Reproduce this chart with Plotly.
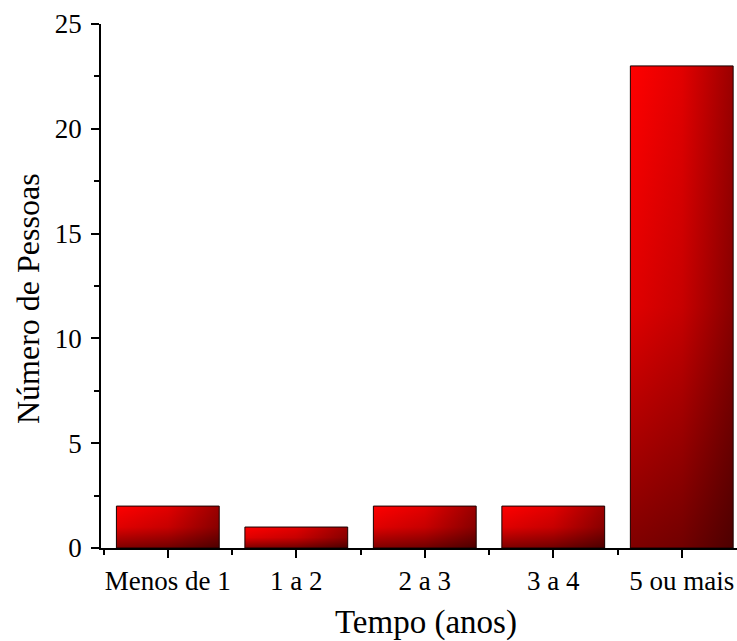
import plotly.graph_objects as go

categories = ["Menos de 1", "1 a 2", "2 a 3", "3 a 4", "5 ou mais"]
values = [2, 1, 2, 2, 23]
y_ticks = [0, 5, 10, 15, 20, 25]

bar_half = 0.4
fig = go.Figure()
for i, v in enumerate(values):
    xs = [i - bar_half, i + bar_half, i + bar_half, i - bar_half, i - bar_half]
    ys = [0, 0, v, v, 0]
    # horizontal red -> dark red
    fig.add_trace(go.Scatter(
        x=xs, y=ys, mode="lines", fill="toself",
        line=dict(width=0, color="rgba(0,0,0,0)"),
        fillgradient=dict(type="horizontal",
                          colorscale=[[0, "#ff0000"], [0.5, "#e20000"], [1, "#9a0000"]]),
        hoverinfo="skip", showlegend=False))
    # vertical darkening overlay with outline
    fig.add_trace(go.Scatter(
        x=xs, y=ys, mode="lines", fill="toself",
        line=dict(width=1, color="#1a0000"),
        fillgradient=dict(type="vertical",
                          colorscale=[[0, "rgba(0,0,0,0.5)"], [0.5, "rgba(0,0,0,0.12)"],
                                      [1, "rgba(0,0,0,0)"]]),
        hoverinfo="skip", showlegend=False,
        name=categories[i]))

fig.update_layout(
    width=737, height=641,
    margin=dict(l=101, r=0, t=24, b=93),
    paper_bgcolor="white", plot_bgcolor="white",
    font=dict(family="Liberation Serif", color="black"),
    showlegend=False,
    annotations=[
        dict(text="Tempo (anos)", xref="paper", yref="paper", x=0.511, y=-0.142,
             xanchor="center", yanchor="middle", showarrow=False,
             font=dict(size=33, family="Liberation Serif", color="black")),
        dict(text="Número de Pessoas", xref="paper", yref="paper", x=-0.1148, y=0.477,
             xanchor="center", yanchor="middle", showarrow=False, textangle=-90,
             font=dict(size=32, family="Liberation Serif", color="black")),
    ],
)
fig.update_xaxes(
    range=[-0.52, 4.43],
    automargin=False,
    tickmode="array", tickvals=list(range(len(categories))), ticktext=categories,
    ticks="outside", ticklen=8, tickwidth=1.5, tickcolor="black",
    minor=dict(tickmode="array", tickvals=[-0.5, 0.5, 1.5, 2.5, 3.5, 4.5],
               ticklen=5, tickwidth=1.5, tickcolor="black", ticks="outside"),
    showline=True, linecolor="black", linewidth=1.5,
    showgrid=False, zeroline=False,
    tickfont=dict(size=27, family="Liberation Serif"),
)
fig.update_yaxes(
    range=[0, 25],
    automargin=False,
    tickmode="array", tickvals=y_ticks,
    ticks="outside", ticklen=8, tickwidth=1.5, tickcolor="black",
    minor=dict(dtick=2.5, tick0=0, ticklen=5, tickwidth=1.5, tickcolor="black", ticks="outside"),
    showline=True, linecolor="black", linewidth=1.5,
    showgrid=False, zeroline=False,
    tickfont=dict(size=27, family="Liberation Serif"),
    ticklabelstandoff=4,
)
fig.write_html(
    "out.html",
    config={"displayModeBar": False},
    post_script="document.body.style.margin='0';document.documentElement.style.overflow='hidden';",
)
